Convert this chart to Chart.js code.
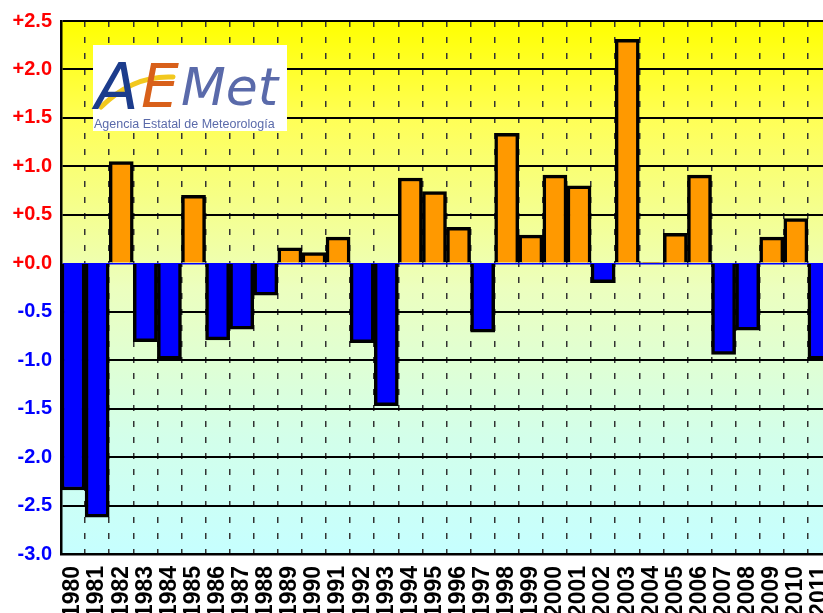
<!DOCTYPE html>
<html>
<head>
<meta charset="utf-8">
<script src="https://cdn.jsdelivr.net/npm/chart.js@4.4.1/dist/chart.umd.min.js"></script>
<style>
  html, body { margin: 0; padding: 0; background: #fff; overflow: hidden; }
  #chart { display: block; }
</style>
</head>
<body>
<canvas id="chart" width="835" height="613"></canvas>
<script>
// temperature anomaly per year (°C)
var years = ['1980','1981','1982','1983','1984','1985','1986','1987','1988','1989',
             '1990','1991','1992','1993','1994','1995','1996','1997','1998','1999',
             '2000','2001','2002','2003','2004','2005','2006','2007','2008','2009',
             '2010','2011'];
var anomalies = [-2.34, -2.62, 1.05, -0.81, -0.99, 0.70, -0.79, -0.68, -0.33, 0.16,
                 0.11, 0.27, -0.82, -1.47, 0.88, 0.74, 0.37, -0.71, 1.34, 0.29,
                 0.91, 0.80, -0.20, 2.31, 0.01, 0.31, 0.91, -0.94, -0.69, 0.27,
                 0.46, -0.99];
var yMin = -3.0, yMax = 2.5, yStep = 0.5;

var barColors = anomalies.map(function (v) { return v >= 0 ? '#ff9900' : '#0000ff'; });

// yellow-to-cyan plot background
var bgPlugin = {
  id: 'bg',
  beforeDraw: function (chart) {
    var a = chart.chartArea, ctx = chart.ctx;
    var g = ctx.createLinearGradient(0, a.top, 0, a.bottom);
    g.addColorStop(0, '#ffff00');
    g.addColorStop(0.18, '#ffff55');
    g.addColorStop(0.5, '#ecffbe');
    g.addColorStop(0.78, '#d3ffea');
    g.addColorStop(1, '#c6ffff');
    ctx.save();
    ctx.fillStyle = g;
    ctx.fillRect(a.left, a.top, a.right - a.left, a.bottom - a.top);
    ctx.restore();
  }
};

// AEMet logo box
var logoPlugin = {
  id: 'logo',
  afterDraw: function (chart) {
    var ctx = chart.ctx;
    var x = 93, y = 45, w = 194, h = 86;
    ctx.save();
    ctx.fillStyle = '#ffffff';
    ctx.fillRect(x, y, w, h);
    ctx.strokeStyle = '#f2c81e';
    ctx.lineWidth = 5;
    ctx.lineCap = 'round';
    ctx.beginPath();
    ctx.moveTo(x + 8, y + 62);
    ctx.quadraticCurveTo(x + 40, y + 30, x + 80, y + 32);
    ctx.stroke();
    ctx.textBaseline = 'alphabetic';
    ctx.font = 'italic 64px "DejaVu Sans"';
    ctx.fillStyle = '#1c3c8c';
    ctx.fillText('A', x + 2, y + 64);
    ctx.font = 'italic 60px "DejaVu Sans"';
    ctx.fillStyle = '#d8601a';
    ctx.fillText('E', x + 48, y + 62);
    ctx.font = 'italic 52px "DejaVu Sans"';
    ctx.fillStyle = '#5a6aaa';
    ctx.fillText('Met', x + 88, y + 60);
    ctx.font = '12.5px "Liberation Sans"';
    ctx.fillStyle = '#5a6aaa';
    ctx.fillText('Agencia Estatal de Meteorología', x + 1, y + 83);
    ctx.restore();
  }
};

new Chart(document.getElementById('chart'), {
  type: 'bar',
  data: {
    labels: years,
    datasets: [{
      data: anomalies,
      backgroundColor: barColors,
      borderColor: '#000000',
      borderWidth: 3.5,
      borderSkipped: 'start',
      categoryPercentage: 1.0,
      barPercentage: 1.0
    }]
  },
  options: {
    responsive: false,
    animation: false,
    layout: { padding: { top: 21, right: 3, left: 0, bottom: 0 } },
    plugins: {
      legend: { display: false },
      tooltip: { enabled: false },
      title: { display: false }
    },
    scales: {
      x: {
        offset: true,
        grid: {
          offset: true,
          color: '#333333',
          lineWidth: 1.5,
          drawTicks: false
        },
        border: { display: true, color: '#000000', width: 2.5, dash: [6, 10] },
        ticks: {
          color: '#000000',
          font: { family: 'Liberation Sans', weight: 'bold', size: 23 },
          minRotation: 90,
          maxRotation: 90,
          padding: 12,
          autoSkip: false
        },
        afterFit: function (scale) {
          scale.height = 59;
          scale.paddingLeft = 0;
          scale.paddingRight = 0;
        }
      },
      y: {
        min: yMin,
        max: yMax,
        grid: {
          color: function (c) { return c.tick && c.tick.value === 0 ? '#0000ff' : '#000000'; },
          lineWidth: function (c) { return c.tick && c.tick.value === 0 ? 1.5 : 2; },
          drawTicks: false
        },
        border: { display: true, color: '#000000', width: 2.5 },
        ticks: {
          stepSize: yStep,
          padding: 9,
          font: { family: 'Liberation Sans', weight: 'bold', size: 20 },
          color: function (c) { return c.tick.value >= 0 ? '#ff0000' : '#0000ff'; },
          callback: function (v) {
            var s = Math.abs(v).toFixed(1);
            return (v >= 0 ? '+' : '-') + s;
          }
        },
        afterFit: function (scale) { scale.width = 61; }
      }
    }
  },
  plugins: [bgPlugin, logoPlugin]
});
</script>
</body>
</html>
